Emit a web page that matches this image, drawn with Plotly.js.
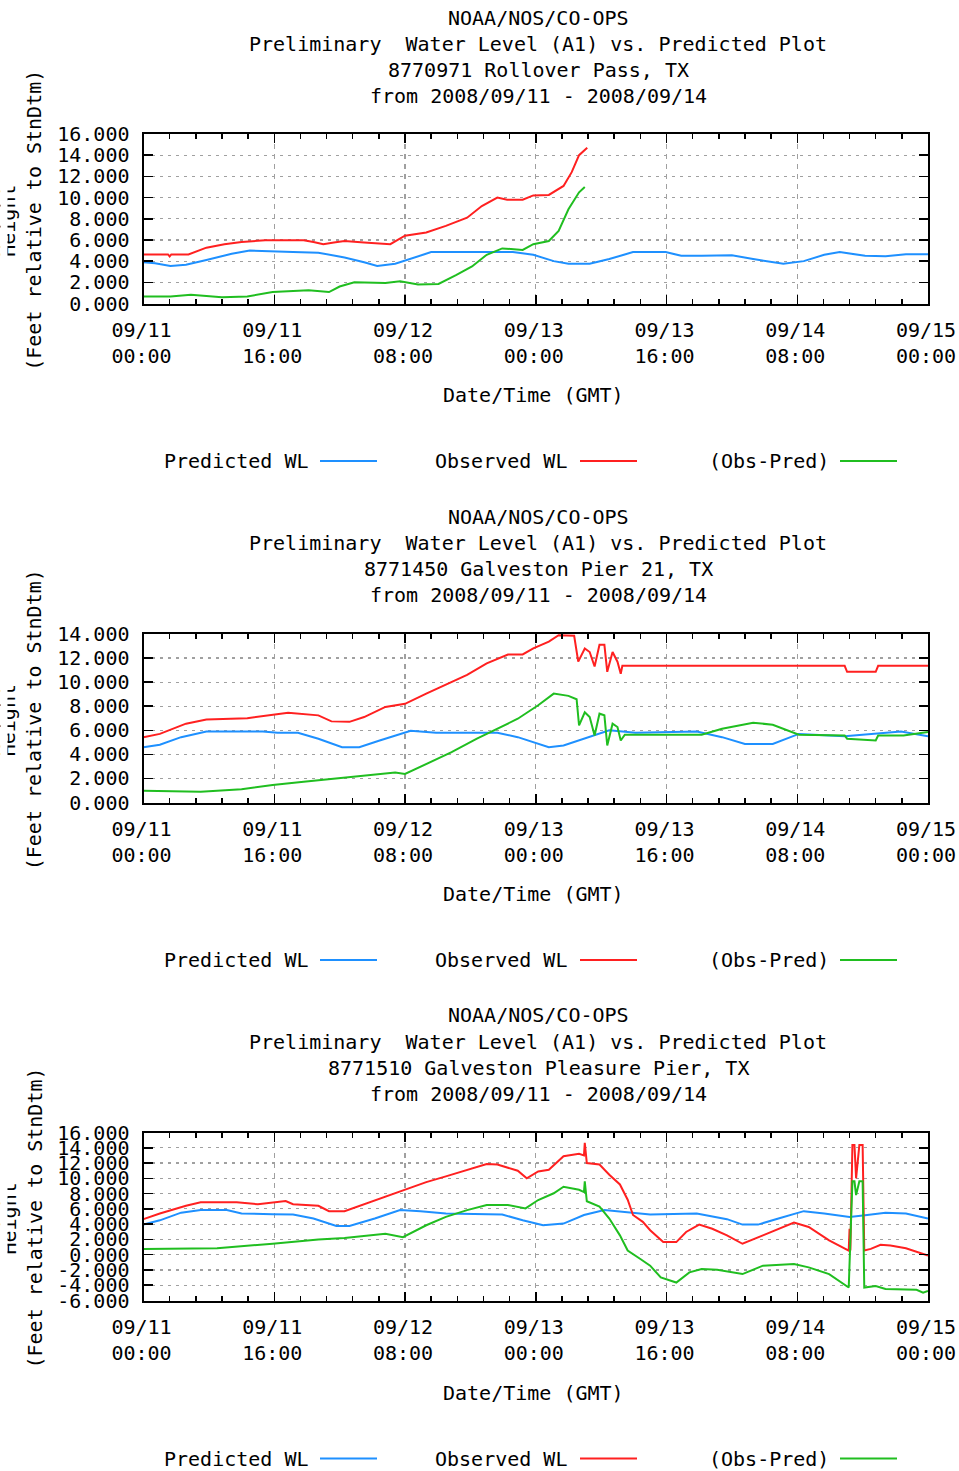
<!DOCTYPE html>
<html>
<head>
<meta charset="utf-8">
<script src="https://cdn.plot.ly/plotly-3.0.1.min.js"></script>
<style>
html,body{margin:0;padding:0;background:#fff;}
#chart{width:959px;height:1471px;}
</style>
</head>
<body>
<div id="chart"></div>
<script>
// ---------------- DATA (hours since 2008/09/11 00:00 GMT, feet) ----------------
const stationTitles = ["8770971 Rollover Pass, TX", "8771450 Galveston Pier 21, TX", "8771510 Galveston Pleasure Pier, TX"];
const xTickVals = [0, 16, 32, 48, 64, 80, 96];
const xTickText = ["09/11<br>00:00", "09/11<br>16:00", "09/12<br>08:00", "09/13<br>00:00", "09/13<br>16:00", "09/14<br>08:00", "09/15<br>00:00"];
const yTickVals1 = [0, 2, 4, 6, 8, 10, 12, 14, 16];
const yTickVals2 = [0, 2, 4, 6, 8, 10, 12, 14];
const yTickVals3 = [-6, -4, -2, 0, 2, 4, 6, 8, 10, 12, 14, 16];

// Plot 1: Rollover Pass
const p1PredH = [0,1.4,3.3,5.2,7.7,10.8,13,15.8,18.3,21.4,24.6,27,28.6,30.8,33.3,35.2,40.2,45.2,47.7,50.2,52,54.6,57,59.9,63.9,65.8,68.3,72,74.6,78.3,80.8,83.3,85.2,88.3,90.8,93.3,96];
const p1Pred  = [3.9,3.8,3.55,3.65,4.1,4.7,5.0,4.9,4.85,4.8,4.35,3.9,3.55,3.75,4.4,4.85,4.87,4.85,4.6,4.0,3.75,3.75,4.2,4.85,4.85,4.5,4.5,4.55,4.2,3.75,4.0,4.6,4.85,4.5,4.45,4.65,4.65];
const p1ObsH  = [0,3,3.2,3.4,5.5,7.7,9.9,12,14.9,19.6,20.8,22,23.3,24.6,27,30.2,32,34.6,37,39.6,41.4,43.3,44.5,46.4,47.7,49.6,51.4,52.4,53.3,54.3];
const p1Obs   = [4.63,4.63,4.45,4.63,4.63,5.27,5.6,5.8,5.97,5.97,5.8,5.6,5.75,5.9,5.75,5.6,6.4,6.7,7.33,8.1,9.2,10.0,9.8,9.8,10.2,10.25,11.1,12.4,14.0,14.7];
const p1DiffH = [0,3.3,5.8,9.6,12.7,15.8,20.2,22.7,24,25.8,29.6,31.4,33.6,36.1,38.3,40.2,42,43.9,46.4,47.7,49.6,50.8,52,53.3,54];
const p1Diff  = [0.67,0.67,0.83,0.6,0.67,1.08,1.24,1.08,1.6,2.0,1.94,2.1,1.8,1.85,2.7,3.5,4.6,5.2,5.05,5.6,5.9,6.86,8.9,10.5,11.0];

// Plot 2: Galveston Pier 21
const p2PredH = [0,2,4.6,7.7,14.6,16.4,18.9,21.4,24.3,26.4,28.9,32.7,35.8,43.3,45.8,49.6,51.4,53.9,57,60.2,67.7,70.8,73.6,77,80.2,85.8,89.6,92.7,96];
const p2Pred  = [4.6,4.8,5.43,5.9,5.9,5.8,5.8,5.3,4.6,4.6,5.15,5.96,5.8,5.8,5.43,4.6,4.73,5.3,6.0,5.8,5.9,5.43,4.87,4.87,5.7,5.5,5.7,5.9,5.5];
const p2ObsH  = [0,2,5.2,7.7,12.7,15.8,17.7,21.4,23,25.2,27,29.6,32,34.6,37,39.6,42,44.6,46.4,47.7,49.6,50.8,52.7,53.2,54,54.6,55.2,55.8,56.4,56.75,57.4,58,58.4,58.6,85.8,86.1,89.6,89.9,96];
const p2Obs   = [5.43,5.7,6.55,6.9,7.0,7.3,7.46,7.24,6.74,6.7,7.1,7.94,8.2,9.05,9.8,10.6,11.56,12.3,12.3,12.8,13.37,13.9,13.85,11.7,12.8,12.5,11.3,13.1,13.1,10.86,12.5,11.7,10.7,11.36,11.36,10.86,10.86,11.36,11.36];
const p2DiffH = [0,7,12,15.8,19.6,22.7,26.4,30.8,32,34.6,37.7,40.8,43.3,45.8,48.3,50.2,52,53,53.3,54,54.6,55.2,55.8,56.4,56.75,57.4,58,58.4,58.9,68.3,70.8,74.6,77,80.2,85.8,86.1,89.6,89.9,93,96];
const p2Diff  = [0.97,0.89,1.1,1.45,1.73,1.95,2.23,2.5,2.37,3.2,4.18,5.3,6.13,6.96,8.08,9.05,8.86,8.58,6.4,7.5,7.1,5.57,7.38,7.24,4.74,6.55,6.27,5.15,5.63,5.63,6.13,6.63,6.46,5.63,5.57,5.3,5.15,5.57,5.57,5.85];

// Plot 3: Galveston Pleasure Pier
const p3PredH = [0,2,4.6,7,10.2,12,15.8,18.3,20.8,23.6,25.2,28.3,31.4,33.9,37,43.9,46.4,48.9,51.4,53.9,56.4,59.6,62,67.7,71.4,73.3,75.2,77.7,80.8,83.3,86.4,88.3,90.8,93.3,96];
const p3Pred  = [3.94,4.5,5.5,5.84,5.84,5.4,5.3,5.26,4.73,3.76,3.76,4.73,5.84,5.7,5.4,5.26,4.5,3.85,4.07,5.2,5.84,5.53,5.26,5.4,4.65,3.94,3.94,4.73,5.7,5.4,4.95,5.17,5.5,5.4,4.73];
const p3ObsH  = [0,2,5.2,7,11.4,14,17.4,18.3,21.4,22.7,24.6,27,29.6,32,34.6,37,39.6,42,43.3,45.8,46.9,48.3,49.6,51.4,53.3,53.9,54,54.25,55.8,57,58.3,59.25,59.9,61.1,62,63.6,65.2,66.4,68,69.6,71.4,73.3,75.8,79.6,81.4,83.9,86.3,86.4,86.5,86.75,87,87.2,87.6,88,88.2,89,90.2,91.4,93.3,95.2,96];
const p3Obs   = [4.65,5.4,6.4,6.85,6.85,6.6,7.03,6.6,6.4,5.7,5.7,6.6,7.6,8.5,9.5,10.25,11.13,11.88,11.8,11.0,10.0,10.9,11.13,12.9,13.2,13.0,14.66,12.0,11.8,10.47,9.2,7.2,5.2,4.3,3.2,1.65,1.65,2.97,3.94,3.4,2.53,1.43,2.53,4.2,3.63,1.87,0.54,3.4,0.54,14.35,14.35,10.0,14.35,14.35,0.54,0.76,1.3,1.2,0.85,0.1,-0.12];
const p3DiffH = [0,9,15.8,18.3,21.4,24.6,29.6,31.75,34.6,37,39.6,42,44.6,46.75,48.3,50.2,51.4,53.3,53.9,54,54.25,55.8,57,58.3,59.25,60.8,62,63.3,65.2,66.8,68.3,70.2,73.3,75.8,79.6,81.4,83.9,86.3,86.75,87,87.2,87.6,88,88.2,89.6,90.8,94.6,95.4,96];
const p3Diff  = [0.76,0.85,1.43,1.65,2.0,2.18,2.75,2.3,3.85,4.95,5.84,6.5,6.5,6.06,7.16,8.04,8.9,8.5,8.2,9.6,7.0,6.3,4.73,2.53,0.54,-0.56,-1.44,-2.98,-3.65,-2.32,-1.88,-1.97,-2.54,-1.44,-1.22,-1.66,-2.54,-4.3,9.6,9.6,7.8,9.6,9.6,-4.3,-4.1,-4.5,-4.6,-4.97,-4.75];

const seriesNames = ["Predicted WL", "Observed WL", "(Obs-Pred)"];

// ---------------- LAYOUT ----------------
const W = 959, H = 1471;
const FONT = "DejaVu Sans Mono, Liberation Mono, monospace";
const FS = 20;
const COLORS = ["rgb(30,144,255)", "rgb(255,32,32)", "rgb(32,190,32)"];
const px = v => v / W;
const py = v => 1 - v / H;

const plotLeft = 143.5, plotRight = 928;
const plotBoxes = [[134, 303.5], [634, 802.5], [1132.5, 1300.5]];
const blockOffsets = [0, 499, 997.5];
const yRanges = [[0, 16], [0, 14], [-6, 16]];
const yTicks = [yTickVals1, yTickVals2, yTickVals3];
const fmtY = v => (v < 0 ? "-" : "") + Math.abs(v).toFixed(3);

const data = [];
const allSeries = [
  [[p1PredH, p1Pred], [p1ObsH, p1Obs], [p1DiffH, p1Diff]],
  [[p2PredH, p2Pred], [p2ObsH, p2Obs], [p2DiffH, p2Diff]],
  [[p3PredH, p3Pred], [p3ObsH, p3Obs], [p3DiffH, p3Diff]]
];
allSeries.forEach((plot, i) => {
  const sfx = i === 0 ? "" : String(i + 1);
  plot.forEach((s, k) => {
    data.push({
      type: "scatter", mode: "lines",
      x: s[0], y: s[1], name: seriesNames[k],
      xaxis: "x" + sfx, yaxis: "y" + sfx,
      line: {color: COLORS[k], width: 2},
      showlegend: false, hoverinfo: "skip"
    });
  });
});

const layout = {
  width: W, height: H,
  margin: {l: 0, r: 0, t: 0, b: 0},
  paper_bgcolor: "#fff", plot_bgcolor: "#fff",
  font: {family: FONT, size: FS, color: "#000"},
  showlegend: false,
  annotations: [], shapes: []
};

for (let i = 0; i < 3; i++) {
  const sfx = i === 0 ? "" : String(i + 1);
  const [top, bot] = plotBoxes[i];
  const off = blockOffsets[i];
  layout["xaxis" + sfx] = {
    domain: [px(plotLeft), px(plotRight)],
    anchor: "y" + sfx,
    range: [0, 96],
    tickmode: "array", tickvals: xTickVals, ticktext: xTickText,
    ticks: "inside", ticklen: 9, tickwidth: 1.5, tickcolor: "#000",
    showline: true, linewidth: 2, linecolor: "#000", mirror: "ticks",
    showgrid: true, gridcolor: "#a0a0a0", gridwidth: 1.2, griddash: "5px,5px",
    zeroline: false,
    ticklabelstandoff: 7,
    ticklabelshift: -2,
    tickfont: {family: FONT, size: FS, color: "#000"},
    minor: {tickmode: "linear", tick0: 0, dtick: 3.2, ticks: "inside", ticklen: 5, tickwidth: 1.5, tickcolor: "#000", showgrid: false},
    fixedrange: true
  };
  layout["yaxis" + sfx] = {
    domain: [py(bot), py(top)],
    anchor: "x" + sfx,
    range: yRanges[i],
    tickmode: "array", tickvals: yTicks[i], ticktext: yTicks[i].map(fmtY),
    ticks: "inside", ticklen: 9, tickwidth: 1.5, tickcolor: "#000",
    showline: true, linewidth: 2, linecolor: "#000", mirror: "ticks",
    showgrid: true, gridcolor: "#a0a0a0", gridwidth: 1.2, griddash: "3px,5px",
    zeroline: false,
    ticklabelstandoff: 8,
    tickfont: {family: FONT, size: FS, color: "#000"},
    fixedrange: true
  };

  // Titles
  const titleLines = ["NOAA/NOS/CO-OPS", "Preliminary\u00a0\u00a0Water Level (A1) vs. Predicted Plot", stationTitles[i], "from 2008/09/11 - 2008/09/14"];
  titleLines.forEach((t, j) => {
    layout.annotations.push({
      text: t, xref: "paper", yref: "paper",
      x: px(538), y: py(18 + 26 * j + off), xanchor: "center", yanchor: "middle",
      showarrow: false, font: {family: FONT, size: FS, color: "#000"}
    });
  });
  // X axis title
  layout.annotations.push({
    text: "Date/Time (GMT)", xref: "paper", yref: "paper",
    x: px(533), y: py(395 + off), xanchor: "center", yanchor: "middle",
    showarrow: false, font: {family: FONT, size: FS, color: "#000"}
  });
  // Y axis title (two lines; first line partly cut at the left edge)
  const yc = (top + bot) / 2 + 2;
  layout.annotations.push({
    text: "Height", xref: "paper", yref: "paper",
    x: px(8), y: py(yc), xanchor: "center", yanchor: "middle", textangle: -90,
    showarrow: false, font: {family: FONT, size: FS, color: "#000"}
  });
  layout.annotations.push({
    text: " ", xref: "paper", yref: "paper",
    x: 0, y: py(yc), xanchor: "left", yanchor: "middle",
    width: 6, height: 90, bgcolor: "#fff", borderpad: 0,
    showarrow: false, font: {size: 10}
  });
  layout.annotations.push({
    text: "(Feet relative to StnDtm)", xref: "paper", yref: "paper",
    x: px(34), y: py(yc), xanchor: "center", yanchor: "middle", textangle: -90,
    showarrow: false, font: {family: FONT, size: FS, color: "#000"}
  });
  // Legend (text then line sample, gnuplot style)
  const legY = 461 + off;
  const legText = [[162, 320, 377], [433, 580, 637], [707, 840, 897]];
  seriesNames.forEach((nm, k) => {
    layout.annotations.push({
      text: nm, xref: "paper", yref: "paper",
      x: px(legText[k][0]), y: py(legY), xanchor: "left", yanchor: "middle",
      showarrow: false, font: {family: FONT, size: FS, color: "#000"}
    });
    layout.shapes.push({
      type: "line", xref: "paper", yref: "paper",
      x0: px(legText[k][1]), x1: px(legText[k][2]), y0: py(legY), y1: py(legY),
      line: {color: COLORS[k], width: 2}
    });
  });
}

Plotly.newPlot("chart", data, layout, {staticPlot: true, displayModeBar: false});
</script>
</body>
</html>
